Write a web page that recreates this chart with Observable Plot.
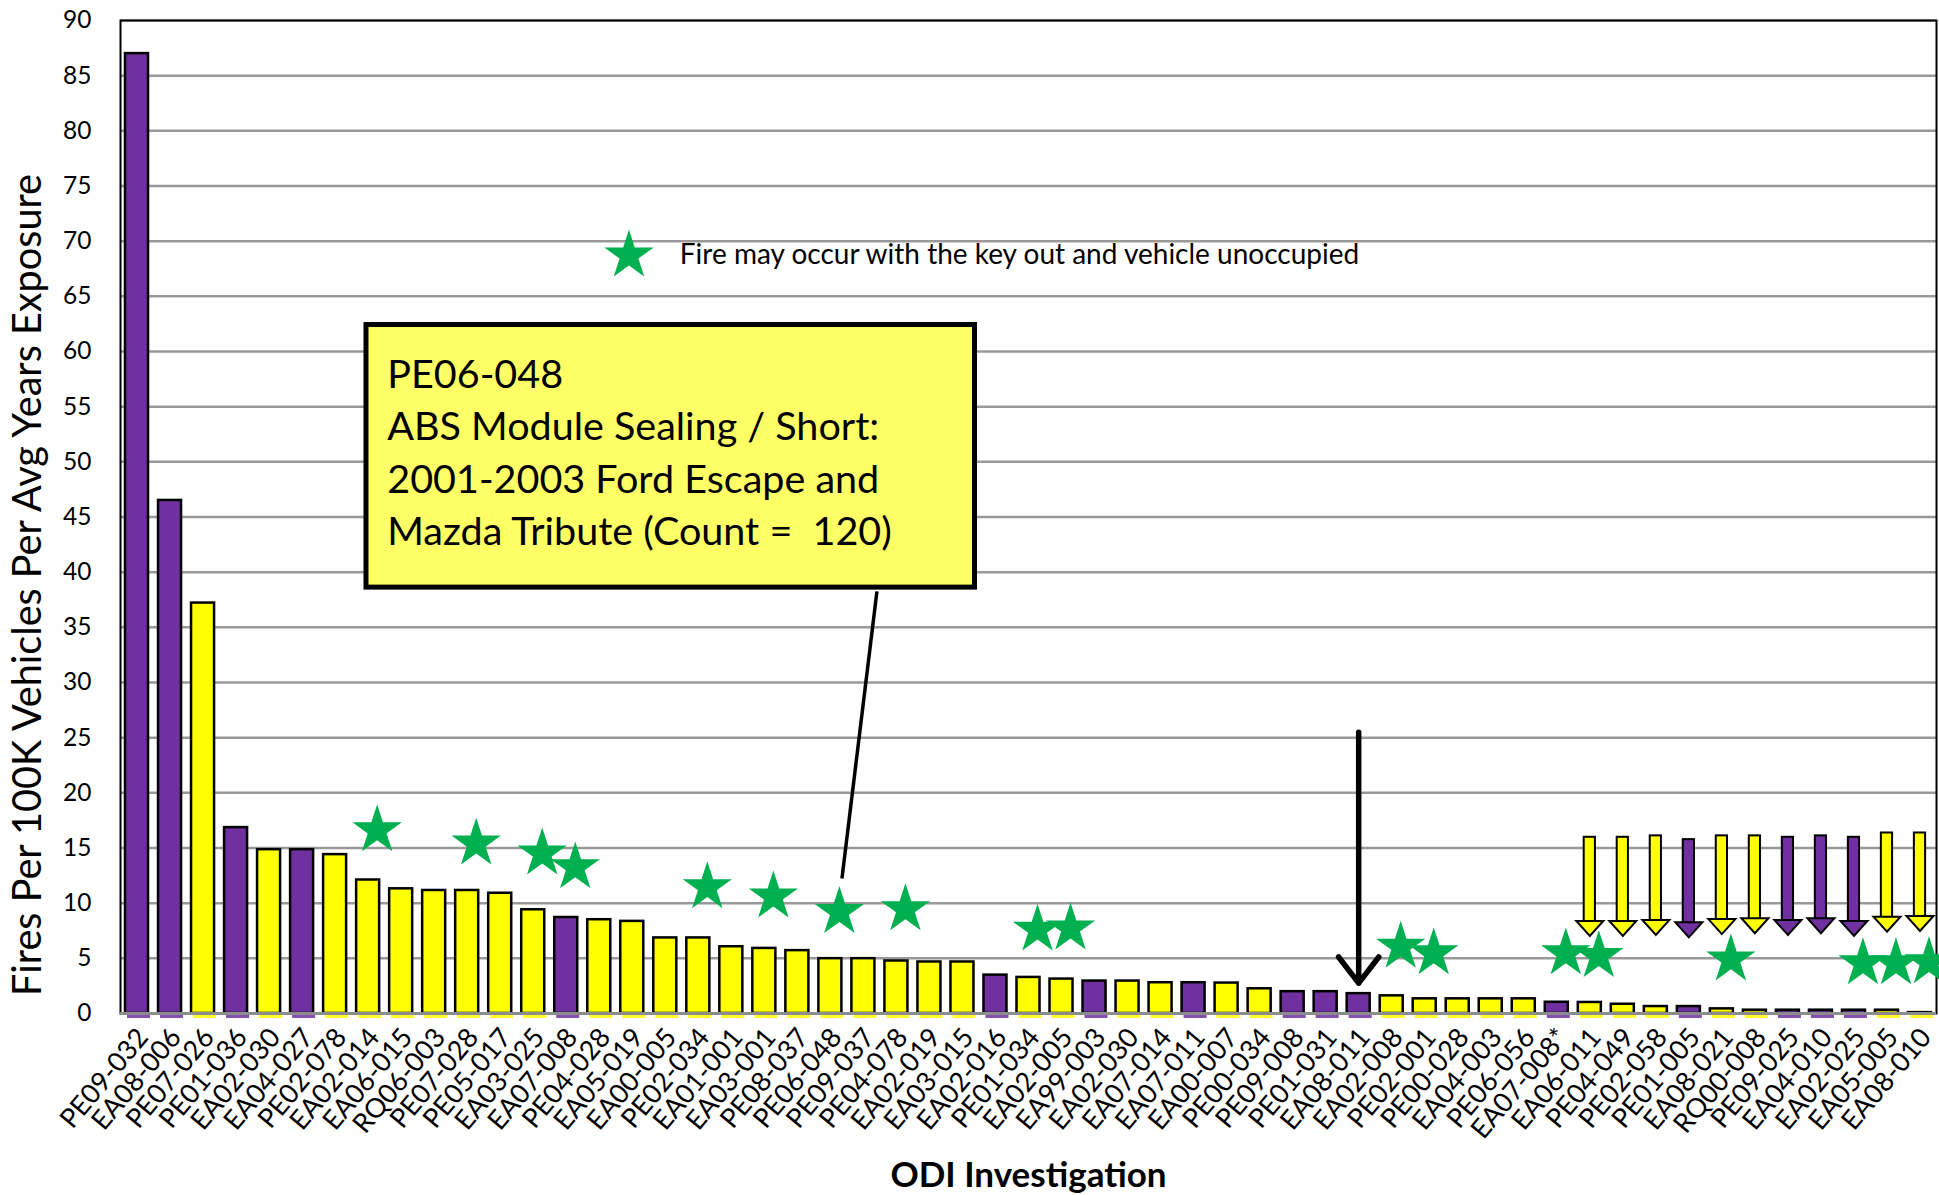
<!DOCTYPE html>
<html>
<head>
<meta charset="utf-8">
<script src="https://cdn.jsdelivr.net/npm/d3@7"></script>
<script src="https://cdn.jsdelivr.net/npm/@observablehq/plot@0.6"></script>
<style>
  body { margin: 0; background: #fff; }
  #chart svg { display: block; }
</style>
</head>
<body>
<div id="chart"></div>
<script>
// ---- data ----
const investigations = [
  "PE09-032","EA08-006","PE07-026","PE01-036","EA02-030","EA04-027","PE02-078","EA02-014","EA06-015","RQ06-003",
  "PE07-028","PE05-017","EA03-025","EA07-008","PE04-028","EA05-019","EA00-005","PE02-034","EA01-001","EA03-001",
  "PE08-037","PE06-048","PE09-037","PE04-078","EA02-019","EA03-015","EA02-016","PE01-034","EA02-005","EA99-003",
  "EA02-030","EA07-014","EA07-011","EA00-007","PE00-034","PE09-008","PE01-031","EA08-011","EA02-008","PE02-001",
  "PE00-028","EA04-003","PE06-056","EA07-008*","EA06-011","PE04-049","PE02-058","PE01-005","EA08-021","RQ00-008",
  "PE09-025","EA04-010","EA02-025","EA05-005","EA08-010"
];
const firesPer100K = [
  87.0, 46.5, 37.2, 16.85, 14.85, 14.85, 14.4, 12.1, 11.3, 11.15,
  11.15, 10.9, 9.4, 8.7, 8.5, 8.35, 6.85, 6.85, 6.05, 5.9,
  5.7, 4.97, 4.97, 4.76, 4.67, 4.67, 3.48, 3.27, 3.12, 2.94,
  2.94, 2.79, 2.79, 2.76, 2.24, 1.98, 1.98, 1.8, 1.6, 1.33,
  1.33, 1.33, 1.33, 1.02, 1.0, 0.84, 0.63, 0.63, 0.42, 0.3,
  0.3, 0.3, 0.3, 0.3, 0.08
];
const group = [
  "P","P","Y","P","Y","P","Y","Y","Y","Y",
  "Y","Y","Y","P","Y","Y","Y","Y","Y","Y",
  "Y","Y","Y","Y","Y","Y","P","Y","Y","P",
  "Y","Y","P","Y","Y","P","P","P","Y","Y",
  "Y","Y","Y","P","Y","Y","Y","P","Y","Y",
  "P","P","P","Y","Y"
];
// investigations marked with a star (fire may occur with key out) and the star heights
const starInvestigations = ["EA02-014","PE07-028","EA03-025","EA07-008","PE02-034","EA03-001","PE06-048","PE04-078",
  "PE01-034","EA02-005","EA02-008","PE02-001","EA07-008*","EA06-011","EA08-021","EA02-025","EA05-005","EA08-010"];
const starLevels = [16.6, 15.4, 14.5, 13.25, 11.45, 10.6, 9.2, 9.45, 7.6, 7.7, 6.05, 5.45, 5.45, 5.2, 4.9, 4.55, 4.55, 4.65];
// investigations pointed at with block arrows
const arrowInvestigations = ["EA06-011","PE04-049","PE02-058","PE01-005","EA08-021","RQ00-008","PE09-025","EA04-010","EA02-025","EA05-005","EA08-010"];
const arrowTops = [15.97, 15.97, 16.1, 15.76, 16.1, 16.1, 15.97, 16.1, 15.97, 16.36, 16.36];
const arrowTips = [7.03, 7.03, 7.12, 6.9, 7.2, 7.27, 7.12, 7.27, 7.03, 7.42, 7.48];
const yTicks = d3.range(0, 91, 5);

const calloutText = "PE06-048\nABS Module Sealing / Short:\n2001-2003 Ford Escape and\nMazda Tribute (Count =  120)";
const legendText = "Fire may occur with the key out and vehicle unoccupied";
const yTitle = "Fires Per 100K Vehicles Per Avg Years Exposure";
const xTitle = "ODI Investigation";

// ---- derived tables ----
const purple = "#7030A0", yellow = "#FFFF00", green = "#00B050";
const bars = investigations.map((name, i) => ({i, name, rate: firesPer100K[i], group: group[i]}));
const indexOf = name => investigations.indexOf(name);
const stars = starInvestigations.map((name, k) => ({i: indexOf(name), level: starLevels[k]}));
const blockArrows = arrowInvestigations.map((name, k) => ({i: indexOf(name), top: arrowTops[k], tip: arrowTips[k], group: group[indexOf(name)]}));
const callout = {x1: 6.95, x2: 25.38, y1: 38.6, y2: 62.4, textX: 7.58, textY: 51.1, lineFrom: [22.41, 38.26], lineTo: [21.35, 12.24]};
const legend = {x: 14.9, textX: 16.44, y: 68.7};
const bigArrow = {i: indexOf("EA08-011"), from: 25.5, to: 2.75};

const headDown = {draw(ctx) { ctx.moveTo(0, 0); ctx.lineTo(-13.5, -15); ctx.lineTo(13.5, -15); ctx.closePath(); }};
const font = "Lato, 'Open Sans', sans-serif";

const plot = Plot.plot({
  width: 1939,
  height: 1195,
  marginTop: 20,
  marginRight: 3,
  marginBottom: 182,
  marginLeft: 120,
  style: {fontFamily: font, background: "#fff", overflow: "visible", color: "#000"},
  x: {type: "linear", domain: [-0.5, 54.5]},
  y: {domain: [0, 90]},
  color: {domain: ["P", "Y"], range: [purple, yellow]},
  marks: [
    Plot.gridY(yTicks, {stroke: "#999", strokeOpacity: 1, strokeWidth: 2.5}),
    Plot.axisY({ticks: yTicks, tickSize: 0, tickPadding: 29, fontSize: 24.5, label: null}),
    Plot.axisX({ticks: d3.range(investigations.length), tickFormat: i => investigations[i], tickRotate: -50, tickSize: 0, tickPadding: 19, dx: 6, fontSize: 27, label: null}),
    Plot.rectY(bars, {x1: d => d.i - 0.5, x2: d => d.i + 0.5, y1: 0, y2: -0.45, fill: "group", fillOpacity: 0.85, insetLeft: 7, insetRight: 3}),
    Plot.rectY(bars, {x1: d => d.i - 0.5, x2: d => d.i + 0.5, y1: 0, y2: "rate", fill: "group", stroke: "black", strokeWidth: 2.5, insetLeft: 5, insetRight: 5}),
    Plot.frame({stroke: "black", strokeWidth: 2}),
    Plot.ruleY([0], {stroke: "#8c8c8c", strokeWidth: 3}),
    // callout
    Plot.rect([callout], {x1: "x1", x2: "x2", y1: "y1", y2: "y2", fill: "#FFFF66", stroke: "black", strokeWidth: 5}),
    Plot.text([callout], {x: "textX", y: "textY", text: () => calloutText, textAnchor: "start", lineAnchor: "middle", lineHeight: 1.327, fontSize: 39.5, fill: "black"}),
    Plot.link([callout], {x1: d => d.lineFrom[0], y1: d => d.lineFrom[1], x2: d => d.lineTo[0], y2: d => d.lineTo[1], stroke: "black", strokeWidth: 3.5}),
    // black arrow
    Plot.arrow([bigArrow], {x1: "i", x2: "i", y1: "from", y2: "to", stroke: "black", strokeWidth: 5.5, headLength: 9, headAngle: 75}),
    // block arrows
    Plot.rect(blockArrows, {x1: d => d.i - 0.17, x2: d => d.i + 0.17, y1: d => d.tip + 0.8, y2: "top", fill: "group", stroke: "black", strokeWidth: 2}),
    Plot.dot(blockArrows, {x: "i", y: "tip", symbol: headDown, fill: "group", stroke: "black", strokeWidth: 2, strokeLinejoin: "miter"}),
    // stars
    Plot.dot(stars, {x: "i", y: "level", symbol: "star", r: 15.5, fill: green, dx: 9}),
    // legend
    Plot.dot([legend], {x: "x", y: "y", symbol: "star", r: 15.5, fill: green}),
    Plot.text([legend], {x: "textX", y: "y", text: () => legendText, textAnchor: "start", fontSize: 28, fill: "black"}),
    // axis titles
    Plot.text([yTitle], {frameAnchor: "left", textAnchor: "middle", rotate: -90, dx: -92, dy: 68, text: d => d, fontSize: 40, fill: "black"}),
    Plot.text([xTitle], {frameAnchor: "bottom", textAnchor: "middle", dy: 173, text: d => d, fontSize: 35, fontWeight: "bold", fill: "black"})
  ]
});
document.getElementById("chart").appendChild(plot);
// condense the y title like the original
d3.select(plot).selectAll("text").filter(function() { return this.textContent === yTitle; })
  .attr("textLength", 822).attr("lengthAdjust", "spacingAndGlyphs");
</script>
</body>
</html>
